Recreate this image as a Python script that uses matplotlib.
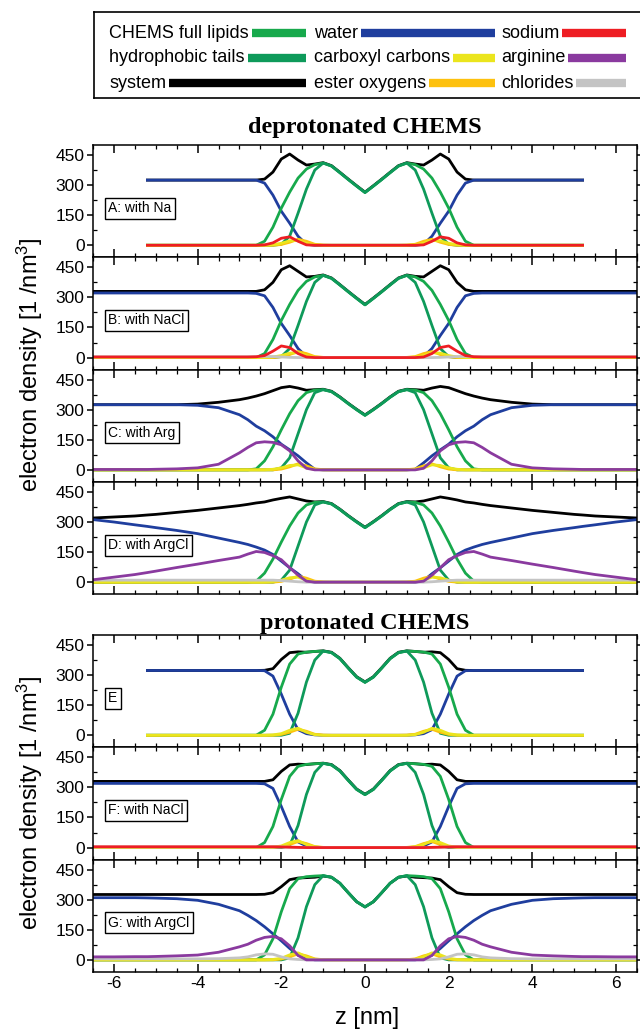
"""
Electron density profiles of CHEMS bilayers (deprotonated / protonated),
seven stacked panels sharing the z axis.
"""

import matplotlib
matplotlib.use("Agg")
import matplotlib.pyplot as plt
from matplotlib.ticker import MultipleLocator
import numpy as np

plt.rcParams.update({
    "font.family": ["Liberation Sans", "DejaVu Sans"],
    "mathtext.fontset": "custom",
    "mathtext.rm": "Liberation Sans",
    "mathtext.it": "Liberation Sans:italic",
    "mathtext.bf": "Liberation Sans:bold",
    "axes.linewidth": 1.1,
    "axes.unicode_minus": False,
})

W, H = 640, 1030

# half profile grid (z >= 0 nm); the bilayer is symmetric, so it is mirrored
Z_HALF = [0.0, 0.2, 0.4, 0.6, 0.8, 1.0, 1.2, 1.4, 1.6, 1.8, 2.0, 2.2, 2.4,
          2.6, 2.8, 3.0, 3.5, 4.0, 4.5, 5.0, 5.2, 5.5, 6.0, 6.5]

# ---- deprotonated CHEMS, lipid groups -------------------------------------
NA_FULL = [263, 295, 328, 362, 395, 410, 402, 380, 335, 265, 185, 90, 20,
           0, 0, 0, 0, 0, 0, 0, 0, 0, 0, 0]
NA_TAILS = [263, 295, 328, 362, 395, 410, 375, 280, 160, 45, 5, 0, 0,
            0, 0, 0, 0, 0, 0, 0, 0, 0, 0, 0]
ARG_FULL = [272, 300, 330, 362, 390, 400, 398, 385, 345, 280, 200, 115, 45,
            5, 0, 0, 0, 0, 0, 0, 0, 0, 0, 0]
ARG_TAILS = [272, 300, 330, 362, 390, 400, 385, 300, 180, 60, 10, 0, 0,
             0, 0, 0, 0, 0, 0, 0, 0, 0, 0, 0]
DEP_CARBOXYL = [0, 0, 0, 0, 0, 0, 2, 10, 25, 22, 10, 3, 0,
                0, 0, 0, 0, 0, 0, 0, 0, 0, 0, 0]
DEP_ESTER = [0, 0, 0, 0, 0, 1, 5, 20, 30, 15, 4, 0, 0,
             0, 0, 0, 0, 0, 0, 0, 0, 0, 0, 0]

# A: with Na (profile only up to z = 5.2)
WATER_A = [0, 0, 0, 0, 0, 0, 0, 5, 45, 110, 170, 250, 310,
           325, 325, 325, 325, 325, 325, 325, 325]
SYSTEM_A = [265, 297, 330, 364, 397, 412, 405, 400, 425, 455, 430, 365, 330,
            325, 325, 325, 325, 325, 325, 325, 325]
SODIUM_A = [0, 0, 0, 0, 0, 0, 0, 2, 20, 42, 35, 12, 2,
            0, 0, 0, 0, 0, 0, 0, 0]

# B: with NaCl
WATER_B = [0, 0, 0, 0, 0, 0, 0, 5, 45, 110, 170, 250, 308,
           320, 322, 322, 322, 322, 322, 322, 322, 322, 322, 322]
SYSTEM_B = [265, 297, 330, 364, 397, 412, 405, 402, 430, 458, 438, 375, 338,
            330, 330, 330, 330, 330, 330, 330, 330, 330, 330, 330]
SODIUM_B = [0, 0, 0, 0, 0, 0, 0, 3, 20, 50, 58, 32, 10,
            4, 3, 3, 3, 3, 3, 3, 3, 3, 3, 3]
CHLORIDE_B = [0, 0, 0, 0, 0, 0, 0, 0, 0, 1, 3, 5, 6,
              5, 4, 4, 4, 4, 4, 4, 4, 4, 4, 4]

# C: with Arg
WATER_C = [0, 0, 0, 0, 0, 0, 3, 35, 70, 100, 128, 165, 195,
           218, 250, 275, 310, 322, 325, 325, 325, 325, 325, 325]
ARGININE_C = [0, 0, 0, 0, 0, 0, 0, 8, 45, 95, 125, 137, 140,
              135, 112, 85, 28, 10, 5, 3, 2, 2, 2, 2]
SYSTEM_C = [274, 302, 332, 364, 392, 402, 400, 397, 408, 416, 410, 395, 380,
            368, 358, 350, 337, 328, 325, 325, 325, 325, 325, 325]

# D: with ArgCl
WATER_D = [0, 0, 0, 0, 0, 0, 0, 8, 42, 72, 105, 138, 160,
           175, 188, 198, 220, 242, 258, 272, 278, 286, 300, 312]
ARGININE_D = [0, 0, 0, 0, 0, 0, 0, 5, 35, 72, 112, 132, 148,
              153, 140, 125, 108, 90, 73, 55, 48, 38, 25, 12]
SYSTEM_D = [274, 302, 332, 364, 392, 402, 400, 405, 415, 425, 418, 410, 400,
            395, 388, 382, 370, 358, 348, 338, 335, 330, 325, 320]
CHLORIDE_D = [0, 0, 0, 0, 0, 0, 0, 0, 2, 5, 8, 10, 10,
              10, 10, 10, 10, 10, 10, 10, 10, 10, 10, 10]

# ---- protonated CHEMS, lipid groups ---------------------------------------
PRO_FULL = [264, 290, 335, 382, 412, 420, 418, 415, 405, 355, 240, 105, 25,
            0, 0, 0, 0, 0, 0, 0, 0, 0, 0, 0]
PRO_TAILS = [264, 290, 335, 382, 412, 420, 375, 265, 110, 10, 0, 0, 0,
             0, 0, 0, 0, 0, 0, 0, 0, 0, 0, 0]
PRO_CARBOXYL = [0, 0, 0, 0, 0, 0, 3, 15, 35, 25, 8, 2, 0,
                0, 0, 0, 0, 0, 0, 0, 0, 0, 0, 0]
PRO_ESTER = [0, 0, 0, 0, 0, 1, 5, 20, 30, 15, 4, 0, 0,
             0, 0, 0, 0, 0, 0, 0, 0, 0, 0, 0]

# E (profile only up to z = 5.2)
WATER_E = [0, 0, 0, 0, 0, 0, 2, 8, 28, 105, 205, 295, 322,
           323, 323, 323, 323, 323, 323, 323, 323]
SYSTEM_E = [266, 292, 337, 384, 414, 421, 418, 414, 416, 412, 378, 332, 324,
            323, 323, 323, 323, 323, 323, 323, 323]

# F: with NaCl
WATER_F = [0, 0, 0, 0, 0, 0, 2, 8, 28, 105, 205, 295, 318,
           320, 320, 320, 320, 320, 320, 320, 320, 320, 320, 320]
SYSTEM_F = [266, 292, 337, 384, 414, 421, 418, 414, 416, 412, 380, 338, 330,
            330, 330, 330, 330, 330, 330, 330, 330, 330, 330, 330]
SODIUM_F = [0, 0, 0, 0, 0, 0, 0, 0, 1, 2, 3, 4, 4,
            4, 4, 4, 4, 4, 4, 4, 4, 4, 4, 4]
CHLORIDE_F = [0, 0, 0, 0, 0, 0, 0, 0, 1, 2, 3, 3, 3,
              3, 3, 3, 3, 3, 3, 3, 3, 3, 3, 3]

# G: with ArgCl
WATER_G = [0, 0, 0, 0, 0, 0, 0, 8, 24, 57, 95, 130, 165,
           196, 222, 245, 277, 297, 305, 308, 309, 310, 310, 310]
ARGININE_G = [0, 0, 0, 0, 0, 0, 0, 0, 22, 70, 105, 117, 112,
              98, 78, 65, 38, 24, 20, 17, 16, 16, 15, 15]
SYSTEM_G = [264, 290, 335, 382, 412, 418, 412, 410, 408, 400, 365, 335, 327,
            326, 326, 326, 326, 326, 326, 326, 326, 326, 326, 326]
CHLORIDE_G = [0, 0, 0, 0, 0, 0, 0, 0, 2, 5, 15, 28, 30,
              25, 15, 10, 6, 5, 5, 5, 5, 5, 5, 5]

COLORS = {
    "CHEMS full lipids": "#17a94c",
    "hydrophobic tails": "#0e9a5a",
    "system": "#000000",
    "water": "#1f3e9e",
    "carboxyl carbons": "#ebe51d",
    "ester oxygens": "#fdc10e",
    "sodium": "#ee1d23",
    "arginine": "#8a3a9f",
    "chlorides": "#c4c4c4",
}
LEGEND_COLUMNS = [
    ["CHEMS full lipids", "hydrophobic tails", "system"],
    ["water", "carboxyl carbons", "ester oxygens"],
    ["sodium", "arginine", "chlorides"],
]
DRAW_ORDER = ["system", "water", "CHEMS full lipids", "hydrophobic tails",
              "ester oxygens", "carboxyl carbons", "chlorides", "arginine",
              "sodium"]

DEP_PANELS = [
    ("A: with Na", 21, {"system": SYSTEM_A, "water": WATER_A,
                        "CHEMS full lipids": NA_FULL, "hydrophobic tails": NA_TAILS,
                        "ester oxygens": DEP_ESTER, "carboxyl carbons": DEP_CARBOXYL,
                        "sodium": SODIUM_A}),
    ("B: with NaCl", 24, {"system": SYSTEM_B, "water": WATER_B,
                          "CHEMS full lipids": NA_FULL, "hydrophobic tails": NA_TAILS,
                          "ester oxygens": DEP_ESTER, "carboxyl carbons": DEP_CARBOXYL,
                          "chlorides": CHLORIDE_B, "sodium": SODIUM_B}),
    ("C: with Arg", 24, {"system": SYSTEM_C, "water": WATER_C,
                         "CHEMS full lipids": ARG_FULL, "hydrophobic tails": ARG_TAILS,
                         "ester oxygens": DEP_ESTER, "carboxyl carbons": DEP_CARBOXYL,
                         "arginine": ARGININE_C}),
    ("D: with ArgCl", 24, {"system": SYSTEM_D, "water": WATER_D,
                           "CHEMS full lipids": ARG_FULL, "hydrophobic tails": ARG_TAILS,
                           "ester oxygens": DEP_ESTER, "carboxyl carbons": DEP_CARBOXYL,
                           "chlorides": CHLORIDE_D, "arginine": ARGININE_D}),
]
PRO_PANELS = [
    ("E", 21, {"system": SYSTEM_E, "water": WATER_E,
               "CHEMS full lipids": PRO_FULL, "hydrophobic tails": PRO_TAILS,
               "ester oxygens": PRO_ESTER, "carboxyl carbons": PRO_CARBOXYL}),
    ("F: with NaCl", 24, {"system": SYSTEM_F, "water": WATER_F,
                          "CHEMS full lipids": PRO_FULL, "hydrophobic tails": PRO_TAILS,
                          "ester oxygens": PRO_ESTER, "carboxyl carbons": PRO_CARBOXYL,
                          "chlorides": CHLORIDE_F, "sodium": SODIUM_F}),
    ("G: with ArgCl", 24, {"system": SYSTEM_G, "water": WATER_G,
                           "CHEMS full lipids": PRO_FULL, "hydrophobic tails": PRO_TAILS,
                           "ester oxygens": PRO_ESTER, "carboxyl carbons": PRO_CARBOXYL,
                           "chlorides": CHLORIDE_G, "arginine": ARGININE_G}),
]


def px_axes(fig, left, top, right, bottom):
    return fig.add_axes([left / W, 1 - bottom / H, (right - left) / W, (bottom - top) / H])


def mirror(n, values):
    z = np.asarray(Z_HALF[:n])
    v = np.asarray(values[:n], dtype=float)
    return np.r_[-z[:0:-1], z], np.r_[v[:0:-1], v]


def draw_panel(ax, label, n, series, show_xlabels):
    for name in DRAW_ORDER:
        if name in series:
            z, v = mirror(n, series[name])
            ax.plot(z, v, color=COLORS[name], lw=2.0, solid_joinstyle="round")
    ax.set_xlim(-6.5, 6.5)
    ax.set_ylim(-60, 500)
    ax.xaxis.set_major_locator(MultipleLocator(2))
    ax.xaxis.set_minor_locator(MultipleLocator(0.5))
    ax.set_yticks([0, 150, 300, 450])
    ax.yaxis.set_minor_locator(MultipleLocator(75))
    ax.tick_params(axis="x", which="both", direction="in", top=True, bottom=True,
                   labelbottom=show_xlabels, labelsize=12.5, pad=3)
    ax.tick_params(axis="x", which="major", length=6, width=1.1)
    ax.tick_params(axis="x", which="minor", length=3, width=0.9)
    ax.tick_params(axis="y", which="major", direction="out", length=4, width=1.1,
                   left=True, right=True, labelsize=12.5, pad=2)
    ax.tick_params(axis="y", which="minor", direction="in", length=3, width=0.9,
                   left=True, right=True)
    ax.text(0.028, 0.4375, label, transform=ax.transAxes, ha="left", va="center",
            fontsize=10,
            bbox=dict(boxstyle="square,pad=0.25", fc="white", ec="black", lw=1.0))


def draw_legend(fig):
    lax = px_axes(fig, 94, 12, 643, 98)
    lax.set_xlim(94, 643)
    lax.set_ylim(98, 12)
    lax.set_xticks([])
    lax.set_yticks([])
    for s in lax.spines.values():
        s.set_linewidth(1.2)
    col_start = [109, 314, 501]
    col_end = [306, 495, 626]
    rows = [33, 58, 83]
    renderer = fig.canvas.get_renderer()
    inv = lax.transData.inverted()
    for ci, names in enumerate(LEGEND_COLUMNS):
        for ri, name in enumerate(names):
            t = lax.text(col_start[ci], rows[ri], name, ha="left", va="center",
                         fontsize=13)
            bb = t.get_window_extent(renderer)
            x_end = inv.transform((bb.x1, bb.y0))[0]
            lax.plot([x_end + 3, col_end[ci]], [rows[ri], rows[ri]],
                     color=COLORS[name], lw=6, solid_capstyle="butt")


def main():
    fig = plt.figure(figsize=(W / 100, H / 100), dpi=100)

    pitch = 112.3
    for i, (label, n, series) in enumerate(DEP_PANELS):
        top = 145 + i * pitch
        ax = px_axes(fig, 93, top, 637, top + pitch)
        draw_panel(ax, label, n, series, False)
    for i, (label, n, series) in enumerate(PRO_PANELS):
        top = 635 + i * pitch
        ax = px_axes(fig, 93, top, 637, top + pitch)
        draw_panel(ax, label, n, series, i == len(PRO_PANELS) - 1)

    title_kw = dict(ha="center", va="center", fontsize=17.5, fontweight="bold",
                    family=["Liberation Serif", "DejaVu Serif"])
    fig.text(365 / W, 1 - 128 / H, "deprotonated CHEMS", **title_kw)
    fig.text(365 / W, 1 - 624 / H, "protonated CHEMS", **title_kw)

    ylab = "electron density [1 /nm$^3$]"
    fig.text(30 / W, 1 - 365 / H, ylab, rotation=90, ha="center", va="center", fontsize=17)
    fig.text(30 / W, 1 - 803 / H, ylab, rotation=90, ha="center", va="center", fontsize=17)
    fig.text(367 / W, 1 - 1018 / H, "z [nm]", ha="center", va="center", fontsize=17)

    draw_legend(fig)
    fig.savefig("out.png", dpi=100)


if __name__ == "__main__":
    main()
